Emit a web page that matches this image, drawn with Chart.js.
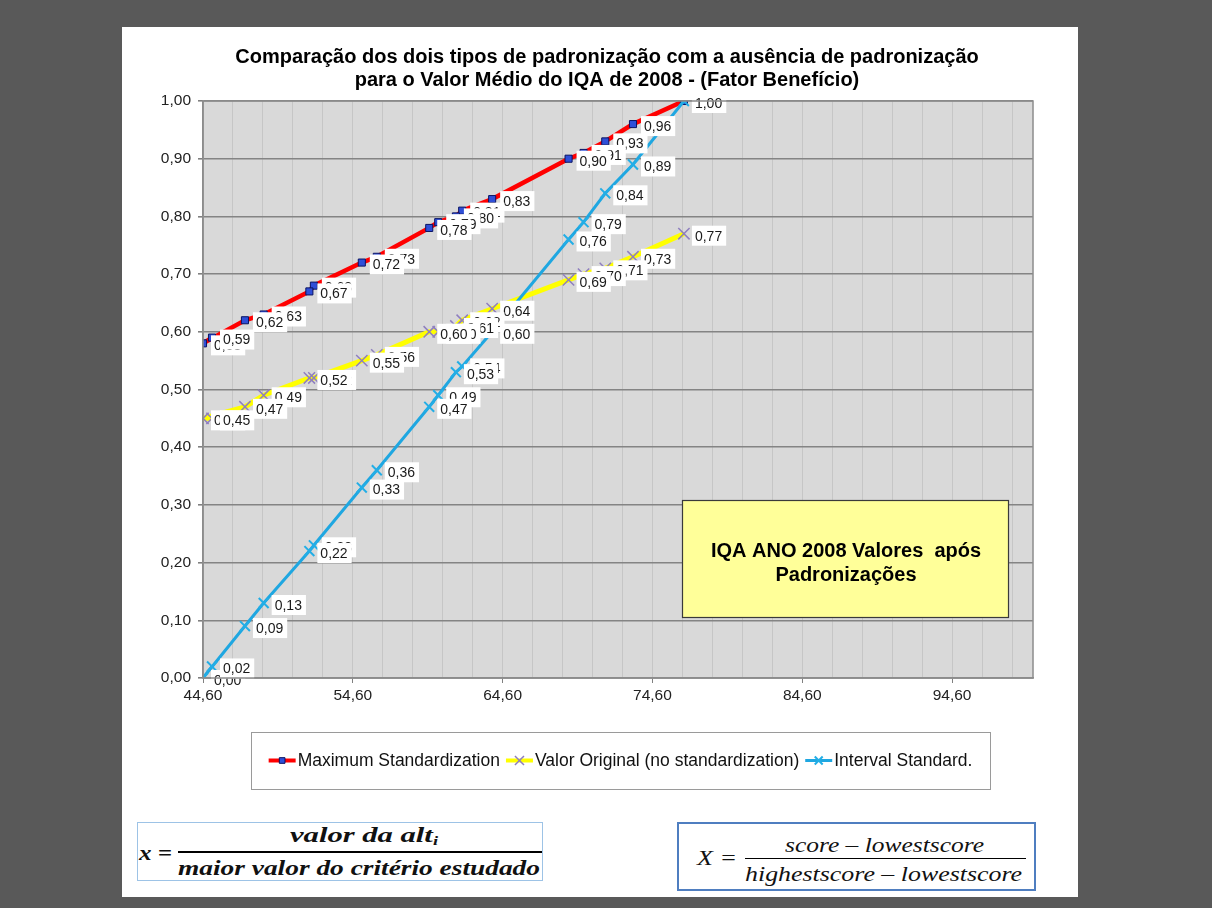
<!DOCTYPE html>
<html lang="pt">
<head>
<meta charset="utf-8">
<title>IQA 2008 - Padronizações</title>
<script src="https://cdn.jsdelivr.net/npm/chart.js@4.4.1/dist/chart.umd.min.js"></script>
<style>
  html, body { margin: 0; padding: 0; width: 1212px; height: 908px; overflow: hidden; background: #595959; }
  #panel { position: absolute; left: 122px; top: 27px; width: 956px; height: 870px; background: #ffffff; }
  #chart { position: absolute; left: 0; top: 0; }
  .fbox { position: absolute; background: #ffffff; box-sizing: border-box; }
  .fbox .t { position: absolute; white-space: nowrap; line-height: 1; }
  .fbox .bar { position: absolute; background: #000; }
  #f1 { left: 137px; top: 822px; width: 406px; height: 59px; border: 1px solid #9DC3E6; }
  #f1 .t { font-family: "Liberation Serif", "Times New Roman", serif; font-weight: bold; font-style: italic; font-size: 22px; color: #111; }
  #f2 { left: 677px; top: 822px; width: 359px; height: 69px; border: 2px solid #4F7EC0; }
  #f2 .t { font-family: "Liberation Serif", "Times New Roman", serif; font-style: italic; font-size: 21px; color: #111; }
  sub { font-size: 0.6em; vertical-align: -0.25em; }
</style>
</head>
<body>
<div id="panel"></div>
<canvas id="chart" width="1212" height="908"></canvas>

<div id="f1" class="fbox">
  <span class="t" data-w="33" style="left:1px;top:19px;">x =</span>
  <span class="t" data-w="148" style="left:152px;top:1px;">valor da alt<sub>i</sub></span>
  <div class="bar" style="left:40px;top:28px;width:364px;height:2px;"></div>
  <span class="t" data-w="362" style="left:40px;top:34px;">maior valor do critério estudado</span>
</div>

<div id="f2" class="fbox">
  <span class="t" data-w="40" style="left:18px;top:24px;">X =</span>
  <span class="t" data-w="199" style="left:106px;top:11px;">score &#8211; lowestscore</span>
  <div class="bar" style="left:66px;top:34px;width:281px;height:1px;"></div>
  <span class="t" data-w="277" style="left:66px;top:40px;">highestscore &#8211; lowestscore</span>
</div>

<script>
// Valor médio do IQA por ponto (eixo X) e os três tipos de valor no eixo Y
const iqaValues = [76.7, 73.3, 71.45, 70.0, 69.0, 63.9, 61.9, 61.48, 60.3, 59.7, 56.2, 55.2, 52.0, 51.7, 48.65, 47.4, 44.6, 45.2];
const maximumStandardization = [1.00, 0.96, 0.93, 0.91, 0.90, 0.83, 0.81, 0.80, 0.79, 0.78, 0.73, 0.72, 0.68, 0.67, 0.63, 0.62, 0.58, 0.59];
const valorOriginal = [0.77, 0.73, 0.71, 0.70, 0.69, 0.64, 0.62, 0.61, 0.60, 0.60, 0.56, 0.55, 0.52, 0.52, 0.49, 0.47, 0.45, 0.45];
const intervalStandard = [1.00, 0.89, 0.84, 0.79, 0.76, 0.60, 0.54, 0.53, 0.49, 0.47, 0.36, 0.33, 0.23, 0.22, 0.13, 0.09, 0.00, 0.02];

const seriesNames = ['Maximum Standardization', 'Valor Original (no standardization)', 'Interval Standard.'];
const xTickValues = [44.6, 54.6, 64.6, 74.6, 84.6, 94.6];
const xTickLabels = ['44,60', '54,60', '64,60', '74,60', '84,60', '94,60'];
const titleLines = ['Comparação dos dois tipos de padronização com a ausência de padronização',
                    'para o Valor Médio do IQA de 2008 - (Fator Benefício)'];
const noteLines = ['IQA ANO 2008 Valores  após', 'Padronizações'];

const X_MIN = 44.6, X_MAX = 100, X_MINOR = 2;
const SANS = '"Liberation Sans", Arial, sans-serif';

const toPoints = ys => iqaValues.map((x, i) => ({ x: x, y: ys[i] }));
const fmt = v => v.toFixed(2).replace('.', ',');
const isMajor = v => xTickValues.some(t => Math.abs(t - v) < 1e-6);

// minor vertical grid every 2 units from the axis minimum
const xGridValues = [];
for (let v = X_MIN; v <= X_MAX + 1e-9; v += X_MINOR) xGridValues.push(Math.round(v * 100) / 100);

// grey plot background and frame
const plotFrame = {
  id: 'plotFrame',
  beforeDraw(chart) {
    const a = chart.chartArea, c = chart.ctx;
    c.save();
    c.fillStyle = '#D9D9D9';
    c.fillRect(a.left, a.top, a.right - a.left, a.bottom - a.top);
    c.restore();
  },
  afterDraw(chart) {
    const a = chart.chartArea, c = chart.ctx;
    c.save();
    c.strokeStyle = '#8c8c8c';
    c.lineWidth = 1.5;
    c.strokeRect(a.left, a.top, a.right - a.left, a.bottom - a.top);
    c.restore();
  }
};

// white-boxed value labels to the right of each point
const valueLabels = {
  id: 'valueLabels',
  afterDatasetsDraw(chart) {
    const c = chart.ctx;
    c.save();
    c.font = '14px ' + SANS;
    c.textBaseline = 'middle';
    chart.data.datasets.forEach((ds, di) => {
      const meta = chart.getDatasetMeta(di);
      meta.data.forEach((pt, i) => {
        const txt = fmt(ds.data[i].y);
        const w = c.measureText(txt).width;
        const x = pt.x + 11, y = pt.y + 2;
        c.fillStyle = '#ffffff';
        c.fillRect(x - 3, y - 10, w + 7, 20);
        c.fillStyle = '#1a1a1a';
        c.fillText(txt, x, y + 1);
      });
    });
    c.restore();
  }
};

function drawMarker(c, ds, x, y) {
  Chart.helpers.drawPoint(c, {
    pointStyle: ds.pointStyle, rotation: 0, radius: ds.pointRadius, borderWidth: ds.pointBorderWidth
  }, x, y);
}

// title, note box and legend
const decorations = {
  id: 'decorations',
  afterDraw(chart) {
    const c = chart.ctx;
    c.save();
    // title
    c.fillStyle = '#000';
    c.font = 'bold 20px ' + SANS;
    c.textAlign = 'center';
    c.textBaseline = 'middle';
    c.fillText(titleLines[0], 607, 57);
    c.fillText(titleLines[1], 607, 80);

    // note box
    c.fillStyle = '#FFFF99';
    c.fillRect(682, 500, 326, 117);
    c.strokeStyle = '#3a3a3a';
    c.lineWidth = 1.2;
    c.strokeRect(682.5, 500.5, 326, 117);
    c.fillStyle = '#000';
    c.font = 'bold 20px ' + SANS;
    c.fillText(noteLines[0], 846, 551);
    c.fillText(noteLines[1], 846, 575);

    // legend
    const bx = 251, by = 732, bw = 739, bh = 57;
    c.fillStyle = '#fff';
    c.fillRect(bx, by, bw, bh);
    c.strokeStyle = '#9a9a9a';
    c.lineWidth = 1;
    c.strokeRect(bx + 0.5, by + 0.5, bw, bh);
    c.font = '17.5px ' + SANS;
    c.textAlign = 'left';
    const sample = 27, gapText = 2, gapItem = 6;
    const widths = chart.data.datasets.map(ds => c.measureText(ds.label).width);
    const total = widths.reduce((s, w) => s + sample + gapText + w, 0) + gapItem * (widths.length - 1);
    let x = bx + (bw - total) / 2;
    const y = by + bh / 2;
    chart.data.datasets.forEach((ds, i) => {
      c.strokeStyle = ds.borderColor;
      c.lineWidth = Math.min(ds.borderWidth, 4);
      c.beginPath();
      c.moveTo(x, y);
      c.lineTo(x + sample, y);
      c.stroke();
      c.fillStyle = ds.pointBackgroundColor;
      c.strokeStyle = ds.pointBorderColor;
      c.lineWidth = ds.pointBorderWidth;
      drawMarker(c, Object.assign({}, ds, { pointRadius: ds.pointRadius * 0.8 }), x + sample / 2, y);
      c.fillStyle = '#111';
      c.fillText(ds.label, x + sample + gapText, y + 1);
      x += sample + gapText + widths[i] + gapItem;
    });
    c.restore();
  }
};

const tickFont = { family: SANS, size: 15.5 };

new Chart(document.getElementById('chart'), {
  type: 'scatter',
  data: {
    datasets: [
      {
        label: seriesNames[0], data: toPoints(maximumStandardization), showLine: true,
        borderColor: '#FF0000', borderWidth: 4.5,
        pointStyle: 'rect', pointRadius: 5, pointHoverRadius: 5,
        pointBackgroundColor: '#2F4FD8', pointBorderColor: '#0A1464', pointBorderWidth: 1,
        order: 3
      },
      {
        label: seriesNames[1], data: toPoints(valorOriginal), showLine: true,
        borderColor: '#FFFF00', borderWidth: 5,
        pointStyle: 'crossRot', pointRadius: 8, pointHoverRadius: 8,
        pointBackgroundColor: '#8F7FBF', pointBorderColor: '#8F7FBF', pointBorderWidth: 1.5,
        order: 2
      },
      {
        label: seriesNames[2], data: toPoints(intervalStandard), showLine: true,
        borderColor: '#1FA7E1', borderWidth: 3,
        pointStyle: 'crossRot', pointRadius: 7, pointHoverRadius: 7,
        pointBackgroundColor: '#23AEE6', pointBorderColor: '#23AEE6', pointBorderWidth: 2,
        order: 1
      }
    ]
  },
  options: {
    responsive: false,
    animation: false,
    devicePixelRatio: 1,
    layout: { padding: { left: 150, top: 101, right: 179, bottom: 200 } },
    plugins: { legend: { display: false }, title: { display: false }, tooltip: { enabled: false } },
    scales: {
      x: {
        type: 'linear', min: X_MIN, max: X_MAX,
        afterBuildTicks: s => { s.ticks = xGridValues.map(v => ({ value: v })); },
        afterFit: s => { s.height = 30; },
        ticks: {
          autoSkip: false, maxRotation: 0, minRotation: 0, padding: 3,
          font: tickFont, color: '#222',
          callback: v => { const k = xTickValues.findIndex(t => Math.abs(t - v) < 1e-6); return k >= 0 ? xTickLabels[k] : ''; }
        },
        grid: {
          color: '#C6C6C6', lineWidth: 1, tickLength: 5,
          tickColor: ctx => (ctx.tick && isMajor(ctx.tick.value)) ? '#808080' : 'rgba(0,0,0,0)'
        },
        border: { color: '#8c8c8c', width: 1.5 }
      },
      y: {
        type: 'linear', min: 0, max: 1,
        afterFit: s => { s.width = 53; },
        ticks: { stepSize: 0.1, padding: 7, font: tickFont, color: '#222', callback: v => fmt(v) },
        grid: { color: '#848484', lineWidth: 1.6, tickLength: 5, tickColor: '#808080' },
        border: { color: '#8c8c8c', width: 1.5 }
      }
    }
  },
  plugins: [plotFrame, valueLabels, decorations]
});

// stretch formula text horizontally to its box width
document.querySelectorAll('.fbox .t').forEach(el => {
  const target = parseFloat(el.dataset.w);
  const w = el.getBoundingClientRect().width;
  if (w > 0) {
    el.style.transformOrigin = 'left top';
    el.style.transform = 'scaleX(' + (target / w) + ')';
  }
});
</script>
</body>
</html>
